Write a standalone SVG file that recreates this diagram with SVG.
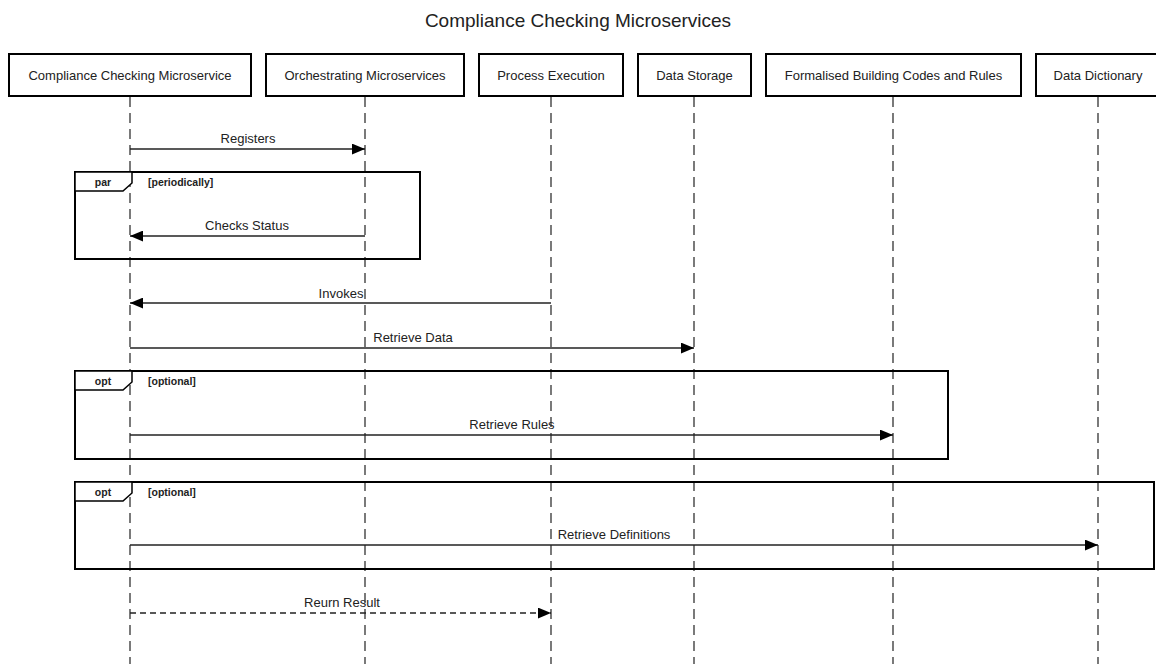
<svg xmlns="http://www.w3.org/2000/svg" width="1156" height="664" viewBox="0 0 1156 664">
  <defs>
    <marker id="arrow" viewBox="0 0 12 10" refX="12" refY="5" markerWidth="13" markerHeight="11" markerUnits="userSpaceOnUse" orient="auto">
      <path d="M0,0 L12,5 L0,10 z" fill="#000"/>
    </marker>
    <style>
      text { font-family: "Liberation Sans", Arial, Helvetica, sans-serif; fill: #222; }
      .title { font-size: 19px; text-anchor: middle; }
      .actor rect { fill: #fff; stroke: #000; stroke-width: 2; }
      .actor text { font-size: 13px; text-anchor: middle; dominant-baseline: central; }
      .lifeline { stroke: #222; stroke-width: 1.2; stroke-dasharray: 10 6; }
      .msg { stroke: #222; stroke-width: 1.3; fill: none; marker-end: url(#arrow); }
      .msg.dashed { stroke-dasharray: 6 4; }
      .msg-label { font-size: 13px; text-anchor: middle; }
      .frame { fill: none; stroke: #000; stroke-width: 2; }
      .frame-tab { fill: #fff; stroke: #000; stroke-width: 1.5; }
      .frame-label { font-size: 10.5px; font-weight: bold; }
    </style>
  </defs>

  <rect width="1156" height="664" fill="#fff"/>

  <text class="title" x="578" y="27">Compliance Checking Microservices</text>

  <!-- lifelines -->
  <g id="lifelines">
    <line class="lifeline" x1="130" y1="97" x2="130" y2="664"/>
    <line class="lifeline" x1="365" y1="97" x2="365" y2="664"/>
    <line class="lifeline" x1="551" y1="97" x2="551" y2="664"/>
    <line class="lifeline" x1="694" y1="97" x2="694" y2="664"/>
    <line class="lifeline" x1="893" y1="97" x2="893" y2="664"/>
    <line class="lifeline" x1="1098" y1="97" x2="1098" y2="664"/>
  </g>

  <!-- participants -->
  <g id="compliance-checking" class="actor">
    <rect x="9" y="54" width="242" height="42"/>
    <text x="130" y="75">Compliance Checking Microservice</text>
  </g>
  <g id="orchestrating" class="actor">
    <rect x="266" y="54" width="198" height="42"/>
    <text x="365" y="75">Orchestrating Microservices</text>
  </g>
  <g id="process-execution" class="actor">
    <rect x="479" y="54" width="144" height="42"/>
    <text x="551" y="75">Process Execution</text>
  </g>
  <g id="data-storage" class="actor">
    <rect x="638" y="54" width="113" height="42"/>
    <text x="694.5" y="75">Data Storage</text>
  </g>
  <g id="building-codes" class="actor">
    <rect x="766" y="54" width="255" height="42"/>
    <text x="893.5" y="75">Formalised Building Codes and Rules</text>
  </g>
  <g id="data-dictionary" class="actor">
    <rect x="1036" y="54" width="124" height="42"/>
    <text x="1098" y="75">Data Dictionary</text>
  </g>

  <!-- combined fragments -->
  <g id="frame-par">
    <rect class="frame" x="75" y="172" width="345" height="87"/>
    <path class="frame-tab" d="M75,172 L132,172 L132,183 L123,191 L75,191 z"/>
    <text class="frame-label" x="103" y="186" text-anchor="middle">par</text>
    <text class="frame-label" x="148" y="186">[periodically]</text>
  </g>
  <g id="frame-opt-rules">
    <rect class="frame" x="75" y="371" width="873" height="88"/>
    <path class="frame-tab" d="M75,371 L132,371 L132,382 L123,390 L75,390 z"/>
    <text class="frame-label" x="103" y="385" text-anchor="middle">opt</text>
    <text class="frame-label" x="148" y="385">[optional]</text>
  </g>
  <g id="frame-opt-definitions">
    <rect class="frame" x="75" y="482" width="1079" height="87"/>
    <path class="frame-tab" d="M75,482 L132,482 L132,493 L123,501 L75,501 z"/>
    <text class="frame-label" x="103" y="496" text-anchor="middle">opt</text>
    <text class="frame-label" x="148" y="496">[optional]</text>
  </g>

  <!-- messages -->
  <g id="connectors">
    <line class="msg" x1="130" y1="149" x2="365" y2="149"/>
    <text class="msg-label" x="248" y="143">Registers</text>

    <line class="msg" x1="365" y1="236" x2="130" y2="236"/>
    <text class="msg-label" x="247" y="230">Checks Status</text>

    <line class="msg" x1="551" y1="303" x2="130" y2="303"/>
    <text class="msg-label" x="341" y="298">Invokes</text>

    <line class="msg" x1="130" y1="348" x2="694" y2="348"/>
    <text class="msg-label" x="413" y="342">Retrieve Data</text>

    <line class="msg" x1="130" y1="435" x2="893" y2="435"/>
    <text class="msg-label" x="512" y="429">Retrieve Rules</text>

    <line class="msg" x1="130" y1="545" x2="1098" y2="545"/>
    <text class="msg-label" x="614" y="539">Retrieve Definitions</text>

    <line class="msg dashed" x1="130" y1="613" x2="551" y2="613"/>
    <text class="msg-label" x="342" y="607">Reurn Result</text>
  </g>
</svg>
